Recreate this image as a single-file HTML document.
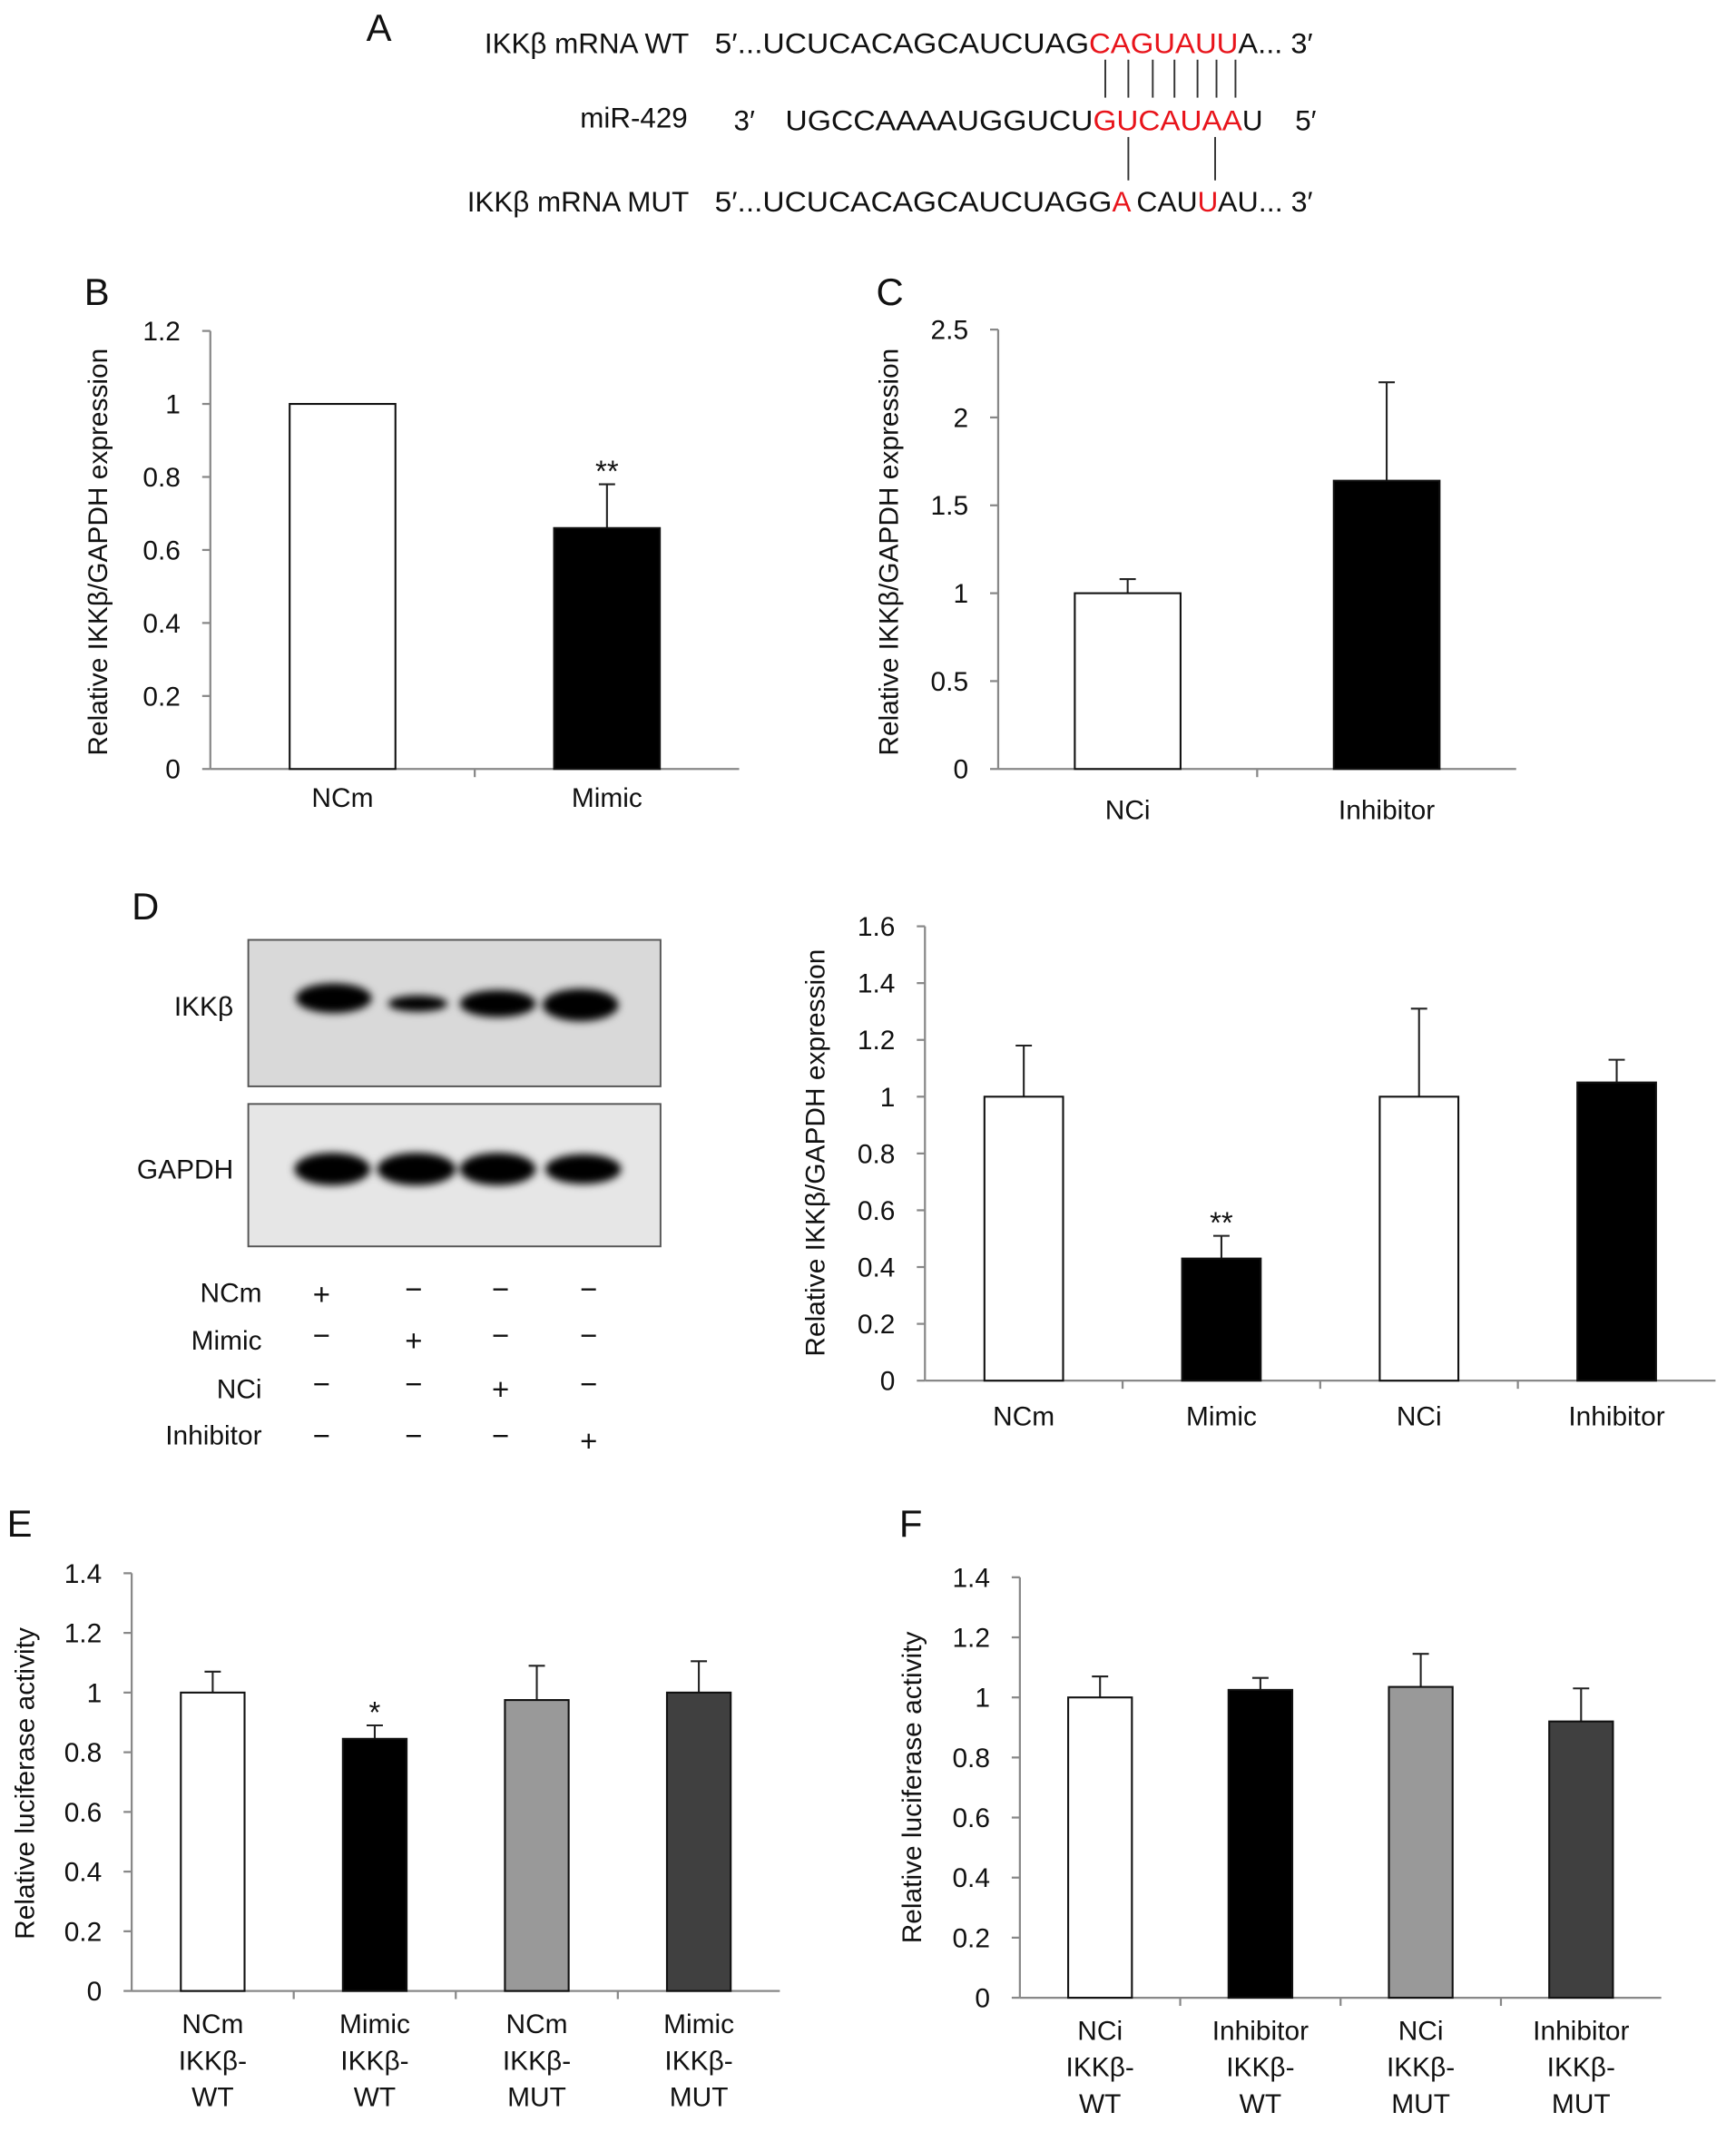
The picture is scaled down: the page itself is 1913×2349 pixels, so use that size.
<!DOCTYPE html>
<html><head><meta charset="utf-8"><style>
html,body{margin:0;padding:0;background:#fff;}
svg{display:block;font-family:"Liberation Sans",Arial,sans-serif;}
</style></head><body>
<svg id="fig" width="1913" height="2349" viewBox="0 0 1280 1572" xmlns="http://www.w3.org/2000/svg">
<defs>
<filter id="blur" x="-20%" y="-50%" width="140%" height="200%"><feGaussianBlur stdDeviation="3"/></filter>
</defs>
<g font-size="21" fill="#111">
<text x="270" y="30" font-size="28">A</text>
<text x="508" y="39" text-anchor="end">IKKβ mRNA WT</text>
<text x="527" y="39" textLength="276" lengthAdjust="spacingAndGlyphs">5′...UCUCACAGCAUCUAG</text>
<text x="803" y="39" textLength="110" lengthAdjust="spacingAndGlyphs" fill="#e8141b">CAGUAUU</text>
<text x="913" y="39" textLength="55" lengthAdjust="spacingAndGlyphs">A... 3′</text>
<text x="507" y="94" text-anchor="end">miR-429</text>
<text x="541" y="96">3′</text>
<text x="579" y="96" textLength="227" lengthAdjust="spacingAndGlyphs">UGCCAAAAUGGUCU</text>
<text x="806" y="96" textLength="110" lengthAdjust="spacingAndGlyphs" fill="#e8141b">GUCAUAA</text>
<text x="916" y="96">U</text>
<text x="955" y="96">5′</text>
<text x="508" y="156" text-anchor="end">IKKβ mRNA MUT</text>
<text x="527" y="156" textLength="293" lengthAdjust="spacingAndGlyphs">5′...UCUCACAGCAUCUAGG</text>
<text x="820" y="156" fill="#e8141b">A</text>
<text x="838" y="156" textLength="45" lengthAdjust="spacingAndGlyphs">CAU</text>
<text x="883" y="156" fill="#e8141b">U</text>
<text x="898" y="156" textLength="70" lengthAdjust="spacingAndGlyphs">AU... 3′</text>
<g stroke="#333" stroke-width="1.3">
<line x1="815" y1="44" x2="815" y2="72"/><line x1="832" y1="44" x2="832" y2="72"/><line x1="850" y1="44" x2="850" y2="72"/><line x1="866" y1="44" x2="866" y2="72"/><line x1="883" y1="44" x2="883" y2="72"/><line x1="897" y1="44" x2="897" y2="72"/><line x1="911" y1="44" x2="911" y2="72"/>
<line x1="832" y1="101" x2="832" y2="133"/><line x1="896" y1="101" x2="896" y2="133"/>
</g>
</g>
<g>
<text x="97" y="678" font-size="28" fill="#111">D</text>
<rect x="183" y="693" width="304" height="108" fill="#d9d9d9" stroke="#555" stroke-width="1.3"/>
<rect x="183" y="814" width="304" height="105" fill="#e6e6e6" stroke="#555" stroke-width="1.3"/>
<g filter="url(#blur)" fill="#000">
<ellipse cx="246" cy="736" rx="28" ry="11"/>
<ellipse cx="308" cy="740" rx="22" ry="6"/>
<ellipse cx="367" cy="740" rx="28" ry="10"/>
<ellipse cx="428" cy="741" rx="28" ry="12"/>
<ellipse cx="245" cy="862" rx="28" ry="12"/>
<ellipse cx="307" cy="862" rx="29" ry="12"/>
<ellipse cx="367" cy="862" rx="28" ry="12"/>
<ellipse cx="430" cy="862" rx="28" ry="11"/>
</g>
<g font-size="20" fill="#111" text-anchor="end">
<text x="172" y="749">IKKβ</text>
<text x="172" y="869">GAPDH</text>
<text x="193" y="960">NCm</text>
<text x="193" y="995">Mimic</text>
<text x="193" y="1031">NCi</text>
<text x="193" y="1065">Inhibitor</text>
</g>
<g id="signs" font-size="22" fill="#111" text-anchor="middle"></g>
</g>
<g id="charts"></g>
</svg>
<script>
// ---- Panel B data ----
const bCategories = ["NCm", "Mimic"];
const bValues = [1.0, 0.66];
const bErrors = [0.0, 0.12];
const bTicks = [0, 0.2, 0.4, 0.6, 0.8, 1, 1.2];
// ---- Panel C data ----
const cCategories = ["NCi", "Inhibitor"];
const cValues = [1.0, 1.64];
const cErrors = [0.08, 0.56];
const cTicks = [0, 0.5, 1, 1.5, 2, 2.5];
// ---- Panel D data ----
const dCategories = ["NCm", "Mimic", "NCi", "Inhibitor"];
const dValues = [1.0, 0.43, 1.0, 1.05];
const dErrors = [0.18, 0.08, 0.31, 0.08];
const dTicks = [0, 0.2, 0.4, 0.6, 0.8, 1, 1.2, 1.4, 1.6];
// ---- Panel E data ----
const eCategories = [["NCm","IKKβ-","WT"],["Mimic","IKKβ-","WT"],["NCm","IKKβ-","MUT"],["Mimic","IKKβ-","MUT"]];
const eValues = [1.0, 0.845, 0.975, 1.0];
const eErrors = [0.07, 0.045, 0.115, 0.105];
const eTicks = [0, 0.2, 0.4, 0.6, 0.8, 1, 1.2, 1.4];
// ---- Panel F data ----
const fCategories = [["NCi","IKKβ-","WT"],["Inhibitor","IKKβ-","WT"],["NCi","IKKβ-","MUT"],["Inhibitor","IKKβ-","MUT"]];
const fValues = [1.0, 1.025, 1.035, 0.92];
const fErrors = [0.07, 0.04, 0.11, 0.11];
const fTicks = [0, 0.2, 0.4, 0.6, 0.8, 1, 1.2, 1.4];
// ---- Blot treatment signs ----
const signRows = [["+","−","−","−"],["−","+","−","−"],["−","−","+","−"],["−","−","−","+"]];

const NS = "http://www.w3.org/2000/svg";
const root = document.getElementById("charts");
function mk(tag, attrs, parent) {
  const e = document.createElementNS(NS, tag);
  for (const k in attrs) e.setAttribute(k, attrs[k]);
  (parent || root).appendChild(e);
  return e;
}

function chart(opt, cats, vals, errs, ticks) {
  const g = mk("g", {});
  
  
  const yMax = ticks[ticks.length - 1];
  const y = v => opt.y0 - (v / yMax) * (opt.y0 - opt.yTop);
  const n = cats.length;
  const step = (opt.x1 - opt.x0) / n;
  const xc = i => opt.x0 + step * (i + 0.5);
  const pl = mk("text", {x: opt.lx, y: opt.ly, "font-size": 28, fill: "#111"}, g);
  pl.textContent = opt.letter;
  
  
  const ya = mk("line", {x1: opt.x0, y1: opt.yTop, x2: opt.x0, y2: opt.y0, stroke: "#888", "stroke-width": 1.5}, g);
  
  
  const xa = mk("line", {x1: opt.x0, y1: opt.y0, x2: opt.x1, y2: opt.y0, stroke: "#888", "stroke-width": 1.5}, g);
  
  
  ticks.forEach(t => {
    mk("line", {x1: opt.x0 - 6, y1: y(t), x2: opt.x0, y2: y(t), stroke: "#888", "stroke-width": 1.5}, g);
    const tl = mk("text", {x: opt.x0 - 22, y: y(t) + 7, "font-size": 20, fill: "#111", "text-anchor": "end"}, g);
    tl.textContent = String(t);
    
    
  });
  for (let i = 1; i < n; i++) {
    const xx = opt.x0 + step * i;
    mk("line", {x1: xx, y1: opt.y0, x2: xx, y2: opt.y0 + 6, stroke: "#888", "stroke-width": 1.5}, g);
  }
  const yt = mk("text", {transform: `translate(${opt.tx},${opt.ty}) rotate(-90)`, "font-size": 20, fill: "#111", "text-anchor": "middle"}, g);
  yt.textContent = opt.title;
  
  
  cats.forEach((c, i) => {
    const w = opt.bw;
    const top = y(vals[i]);
    const eb = y(vals[i] + errs[i]);
    if (errs[i] > 0) {
      mk("line", {x1: xc(i), y1: eb, x2: xc(i), y2: top, stroke: "#222", "stroke-width": 1.4}, g);
      mk("line", {x1: xc(i) - 6, y1: eb, x2: xc(i) + 6, y2: eb, stroke: "#222", "stroke-width": 1.4}, g);
    }
    const r = mk("rect", {x: xc(i) - w / 2, y: top, width: w, height: opt.y0 - top, fill: opt.fills[i], stroke: "#111", "stroke-width": 1.4}, g);
    
    
    const lines = Array.isArray(c) ? c : [c];
    lines.forEach((s, k) => {
      const t = mk("text", {x: xc(i), y: opt.labY + k * 27, "font-size": 20, fill: "#111", "text-anchor": "middle"}, g);
      t.textContent = s;
      
      
    });
    if (opt.stars && opt.stars[i]) {
      const st = mk("text", {x: xc(i), y: eb - 2, "font-size": 22, fill: "#111", "text-anchor": "middle"}, g);
      st.textContent = opt.stars[i];
      
      
    }
  });
}

chart({name: "chart-b", letter: "B", lx: 62, ly: 225, x0: 155, x1: 545, y0: 567, yTop: 244, bw: 78, labY: 595,
  title: "Relative IKKβ/GAPDH expression", tx: 79, ty: 407, fills: ["#fff", "#000"], stars: ["", "**"]},
  bCategories, bValues, bErrors, bTicks);
chart({name: "chart-c", letter: "C", lx: 646, ly: 225, x0: 736, x1: 1118, y0: 567, yTop: 243, bw: 78, labY: 604,
  title: "Relative IKKβ/GAPDH expression", tx: 662, ty: 407, fills: ["#fff", "#000"], stars: ["", ""]},
  cCategories, cValues, cErrors, cTicks);
chart({name: "chart-d", letter: "", lx: 0, ly: 0, x0: 682, x1: 1265, y0: 1018, yTop: 683, bw: 58, labY: 1051,
  title: "Relative IKKβ/GAPDH expression", tx: 608, ty: 850, fills: ["#fff", "#000", "#fff", "#000"], stars: ["", "**", "", ""]},
  dCategories, dValues, dErrors, dTicks);
chart({name: "chart-e", letter: "E", lx: 5, ly: 1133, x0: 97, x1: 575, y0: 1468, yTop: 1160, bw: 47, labY: 1499,
  title: "Relative luciferase activity", tx: 25, ty: 1315, fills: ["#fff", "#000", "#999", "#404040"], stars: ["", "*", "", ""]},
  eCategories, eValues, eErrors, eTicks);
chart({name: "chart-f", letter: "F", lx: 663, ly: 1133, x0: 752, x1: 1225, y0: 1473, yTop: 1163, bw: 47, labY: 1504,
  title: "Relative luciferase activity", tx: 679, ty: 1318, fills: ["#fff", "#000", "#999", "#404040"], stars: ["", "", "", ""]},
  fCategories, fValues, fErrors, fTicks);

const sg = document.getElementById("signs");
const signX = [237, 305, 369, 434];
const signY = [962, 996, 1032, 1070];
signRows.forEach((row, r) => row.forEach((s, c) => {
  const t = mk("text", {x: signX[c], y: signY[r] - (s === "−" ? 4 : 0)}, sg);
  t.textContent = s;
  
  
}));
</script>
</body></html>
